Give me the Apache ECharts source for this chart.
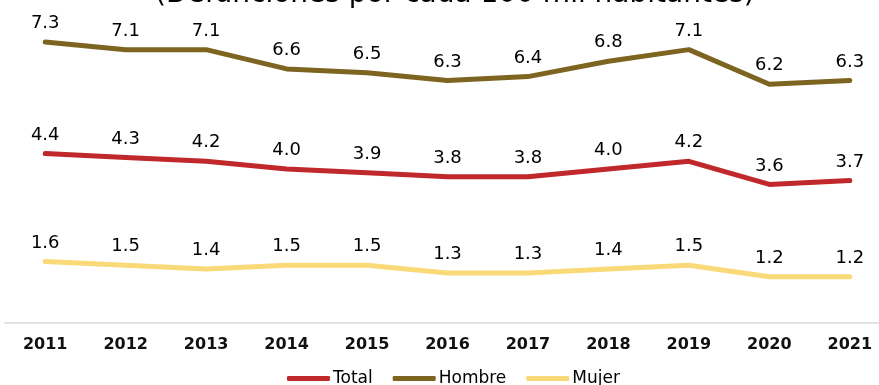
<!DOCTYPE html>
<html><head><meta charset="utf-8">
<script src="https://cdn.jsdelivr.net/npm/echarts@6/dist/echarts.min.js"></script>
<style>html,body{margin:0;padding:0;background:#fff}#c{width:879px;height:385px}</style>
</head><body><div id="c"></div>
<script>
const titleText = '(Defunciones por cada 100 mil habitantes)';
const years = ['2011','2012','2013','2014','2015','2016','2017','2018','2019','2020','2021'];
const total = [4.4,4.3,4.2,4.0,3.9,3.8,3.8,4.0,4.2,3.6,3.7];
const hombre = [7.3,7.1,7.1,6.6,6.5,6.3,6.4,6.8,7.1,6.2,6.3];
const mujer = [1.6,1.5,1.4,1.5,1.5,1.3,1.3,1.4,1.5,1.2,1.2];
const seriesNames = ['Total','Hombre','Mujer'];
const colors = ['#C0282B','#7E6421','#F9D978'];
const font = 'DejaVu Sans';
function mk(name, data, color){
  return {name, type:'line', data, symbol:'circle', symbolSize:1,
    itemStyle:{color}, lineStyle:{color, width:5, cap:'round', join:'round'},
    label:{show:true, position:'top', distance:9, fontFamily:font, fontSize:18, color:'#000',
      formatter:p=>p.value.toFixed(1)}};
}
const chart = echarts.init(document.getElementById('c'));
chart.setOption({
  animation:false,
  title:{text:titleText, left:150, top:-24, textStyle:{fontFamily:font, fontSize:28, fontWeight:'normal', color:'#000'}},
  grid:{left:5, width:885, top:15, bottom:62, containLabel:false, outerBoundsMode:'none'},
  legend:{left:282, top:365, icon:'roundRect', itemWidth:43, itemHeight:5, itemGap:20,
    textStyle:{fontFamily:font, fontSize:17, color:'#000', padding:[0,0,0,-2]},
    data:seriesNames},
  xAxis:{type:'category', data:years, boundaryGap:true,
    axisLine:{lineStyle:{color:'#d9d9d9', width:1.5}}, axisTick:{show:false},
    axisLabel:{fontFamily:font, fontSize:16, fontWeight:'bold', color:'#111', margin:14}},
  yAxis:{type:'value', min:0, max:8, show:false, splitLine:{show:false}},
  series:[mk(seriesNames[0], total, colors[0]), mk(seriesNames[1], hombre, colors[1]), mk(seriesNames[2], mujer, colors[2])]
});
</script></body></html>
